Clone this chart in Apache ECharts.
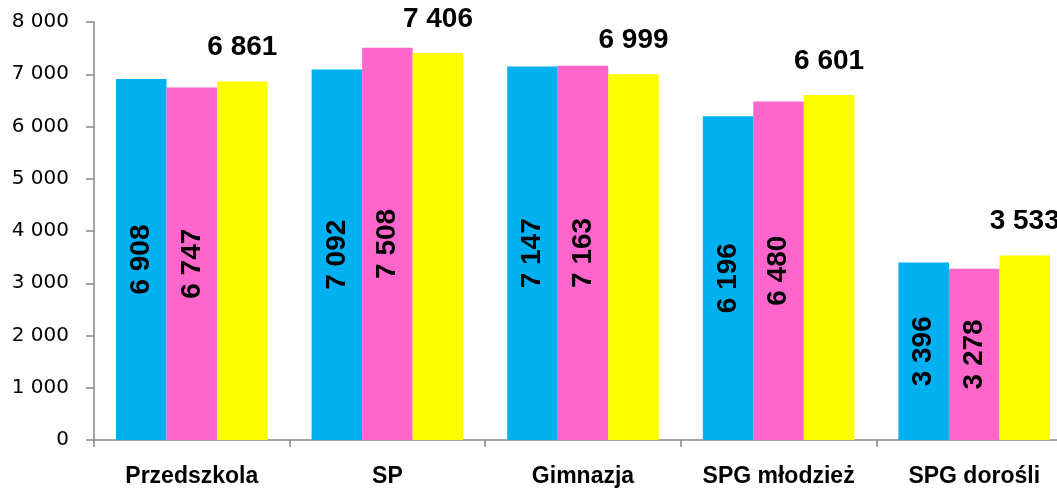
<!DOCTYPE html>
<html>
<head>
<meta charset="utf-8">
<script src="https://cdn.jsdelivr.net/npm/echarts@6/dist/echarts.min.js"></script>
<style>
  html, body { margin: 0; padding: 0; background: #fff; overflow: hidden; }
  #chart { width: 1080px; height: 488px; }
</style>
</head>
<body>
<div id="chart"></div>
<script>
// dane
var categories = ['Przedszkola', 'SP', 'Gimnazja', 'SPG młodzież', 'SPG dorośli'];
var seriesCyan = [6908, 7092, 7147, 6196, 3396];
var seriesPink = [6747, 7508, 7163, 6480, 3278];
var seriesYellow = [6861, 7406, 6999, 6601, 3533];
var yTicks = [0, 1000, 2000, 3000, 4000, 5000, 6000, 7000, 8000];

function fmt(v) {
  return String(v).replace(/\B(?=(\d{3})+(?!\d))/g, ' ');
}

var myChart = echarts.init(document.getElementById('chart'));

var insideLabel = {
  show: true,
  position: 'inside',
  rotate: 90,
  fontSize: 28,
  fontWeight: 'bold',
  fontFamily: 'Liberation Sans',
  color: '#000',
  formatter: function (p) { return fmt(p.value); }
};

var option = {
  animation: false,
  grid: {
    left: 94,
    top: 22,
    bottom: 45,
    right: 8,
    containLabel: false
  },
  xAxis: {
    type: 'category',
    data: categories,
    axisLine: { lineStyle: { color: '#868686', width: 1.5 } },
    axisTick: { show: true, interval: 0, length: 7, lineStyle: { color: '#868686', width: 1.5 } },
    axisLabel: {
      interval: 0,
      hideOverlap: false,
      margin: 25,
      color: '#000',
      fontSize: 23,
      fontWeight: 'bold',
      fontFamily: 'Liberation Sans'
    }
  },
  yAxis: {
    type: 'value',
    min: yTicks[0],
    max: yTicks[yTicks.length - 1],
    interval: 1000,
    axisLine: { show: true, lineStyle: { color: '#868686', width: 1.5 } },
    axisTick: { show: true, length: 8, lineStyle: { color: '#868686', width: 1.5 } },
    splitLine: { show: false },
    axisLabel: {
      margin: 25,
      color: '#000',
      fontSize: 20,
      fontFamily: 'DejaVu Sans',
      formatter: function (v) { return fmt(v); }
    }
  },
  series: [
    {
      name: 'cyan',
      type: 'bar',
      data: seriesCyan,
      barGap: '0%',
      barCategoryGap: '22.5%',
      itemStyle: { color: '#00B0F0' },
      label: insideLabel
    },
    {
      name: 'pink',
      type: 'bar',
      data: seriesPink,
      barGap: '0%',
      barCategoryGap: '22.5%',
      itemStyle: { color: '#FF66CC' },
      label: insideLabel
    },
    {
      name: 'yellow',
      type: 'bar',
      data: seriesYellow,
      barGap: '0%',
      barCategoryGap: '22.5%',
      itemStyle: { color: '#FFFF00' },
      label: {
        show: true,
        position: 'top',
        distance: 20,
        fontSize: 28,
        fontWeight: 'bold',
        fontFamily: 'Liberation Sans',
        color: '#000',
        formatter: function (p) { return fmt(p.value); }
      }
    }
  ]
};

myChart.setOption(option);
</script>
</body>
</html>
